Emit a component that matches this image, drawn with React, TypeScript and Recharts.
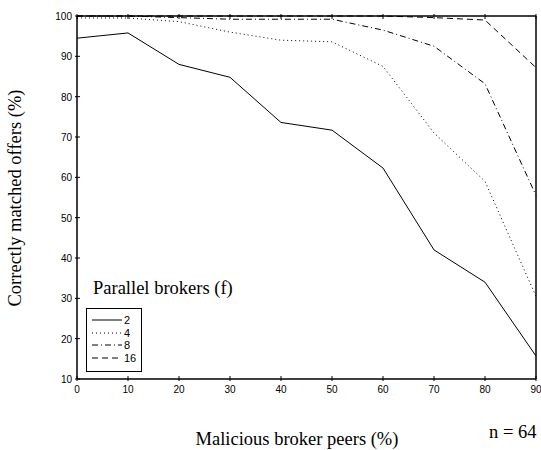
import React from 'react';
import { LineChart, Line, XAxis, YAxis } from 'recharts';

const peers = [0, 10, 20, 30, 40, 50, 60, 70, 80, 90];
const f2 = [94.5, 95.8, 88.0, 84.8, 73.6, 71.7, 62.3, 42.0, 34.0, 15.7];
const f4 = [99.5, 99.5, 98.6, 96.0, 94.0, 93.6, 87.5, 71.0, 59.0, 30.5];
const f8 = [100, 100, 99.6, 99.2, 99.2, 99.2, 96.5, 92.5, 83.2, 55.5];
const f16 = [100, 100, 100, 100, 100, 100, 100, 99.6, 99.0, 87.2];
const xTicks = [0, 10, 20, 30, 40, 50, 60, 70, 80, 90];
const yTicks = [10, 20, 30, 40, 50, 60, 70, 80, 90, 100];

const series = [
    { key: 'f2', name: '2', dash: undefined },
    { key: 'f4', name: '4', dash: '1 3' },
    { key: 'f8', name: '8', dash: '6 3 1 3' },
    { key: 'f16', name: '16', dash: '6 4' },
];

const data = peers.map((p, i) => ({ x: p, f2: f2[i], f4: f4[i], f8: f8[i], f16: f16[i] }));

const tickFont = 'Liberation Sans, Arial, sans-serif';
const serif = 'Liberation Serif, Times New Roman, serif';

const BottomTick = (props: any) => {
    const { x, y, payload } = props;
    return (
        <g>
            <line x1={x} y1={y} x2={x} y2={y - 5} stroke="#000" />
            <text x={x} y={y + 12} textAnchor="middle" fontSize={10} fontFamily={tickFont} fill="#000">
                {payload.value}
            </text>
        </g>
    );
};

const TopTick = (props: any) => {
    const { x, y } = props;
    return <line x1={x} y1={y} x2={x} y2={y + 5} stroke="#000" />;
};

const LeftTick = (props: any) => {
    const { x, y, payload } = props;
    return (
        <g>
            <line x1={x} y1={y} x2={x + 5} y2={y} stroke="#000" />
            <text x={x - 3} y={y + 4} textAnchor="end" fontSize={10} fontFamily={tickFont} fill="#000">
                {payload.value}
            </text>
        </g>
    );
};

const RightTick = (props: any) => {
    const { x, y } = props;
    return <line x1={x} y1={y} x2={x - 5} y2={y} stroke="#000" />;
};

const axisLine = { stroke: '#000', strokeWidth: 1.5 };

export default function App() {
    return (
        <div style={{ position: 'absolute', left: 0, top: 0, width: 541, height: 450, background: '#fff' }}>
            <LineChart width={541} height={450} data={data} margin={{ top: 15, right: 4, left: 76, bottom: 70 }}>
                <XAxis
                    dataKey="x"
                    type="number"
                    domain={[0, 90]}
                    ticks={xTicks}
                    height={1}
                    tickSize={0}
                    tickLine={false}
                    tick={<BottomTick />}
                    axisLine={axisLine}
                    interval={0}
                />
                <XAxis
                    xAxisId="top"
                    orientation="top"
                    dataKey="x"
                    type="number"
                    domain={[0, 90]}
                    ticks={xTicks}
                    height={1}
                    tickSize={0}
                    tickLine={false}
                    tick={<TopTick />}
                    axisLine={axisLine}
                    interval={0}
                />
                <YAxis
                    type="number"
                    domain={[10, 100]}
                    ticks={yTicks}
                    width={1}
                    tickSize={0}
                    tickLine={false}
                    tick={<LeftTick />}
                    axisLine={axisLine}
                    interval={0}
                />
                <YAxis
                    yAxisId="right"
                    orientation="right"
                    type="number"
                    domain={[10, 100]}
                    ticks={yTicks}
                    width={1}
                    tickSize={0}
                    tickLine={false}
                    tick={<RightTick />}
                    axisLine={axisLine}
                    interval={0}
                />
                {series.map((s) => (
                    <Line
                        key={s.key}
                        dataKey={s.key}
                        name={s.name}
                        type="linear"
                        stroke="#000"
                        strokeWidth={1}
                        strokeDasharray={s.dash}
                        dot={false}
                        activeDot={false}
                        isAnimationActive={false}
                    />
                ))}
            </LineChart>
            <div style={{ position: 'absolute', left: 93, top: 278, fontFamily: serif, fontSize: 18.5, whiteSpace: 'nowrap' }}>
                Parallel brokers (f)
            </div>
            <div
                style={{
                    position: 'absolute',
                    left: 86,
                    top: 308,
                    width: 56,
                    height: 64,
                    border: '1.5px solid #000',
                    boxSizing: 'border-box',
                    padding: '5px 0 0 5px',
                }}
            >
                {series.map((s) => (
                    <div key={s.key} style={{ display: 'flex', alignItems: 'center', height: 12.5 }}>
                        <svg width={31} height={6}>
                            <line x1={0} y1={3} x2={30} y2={3} stroke="#000" strokeDasharray={s.dash} />
                        </svg>
                        <span style={{ fontFamily: tickFont, fontSize: 11, marginLeft: 1 }}>{s.name}</span>
                    </div>
                ))}
            </div>
            <div style={{ position: 'absolute', left: 0, top: 429, width: 594, textAlign: 'center', fontFamily: serif, fontSize: 18.5 }}>
                Malicious broker peers (%)
            </div>
            <div style={{ position: 'absolute', left: 489, top: 422, fontFamily: serif, fontSize: 18.5 }}>n = 64</div>
            <div
                style={{
                    position: 'absolute',
                    left: 15,
                    top: 198,
                    transform: 'translate(-50%, -50%) rotate(-90deg)',
                    fontFamily: serif,
                    fontSize: 18.5,
                    whiteSpace: 'nowrap',
                }}
            >
                Correctly matched offers (%)
            </div>
        </div>
    );
}
